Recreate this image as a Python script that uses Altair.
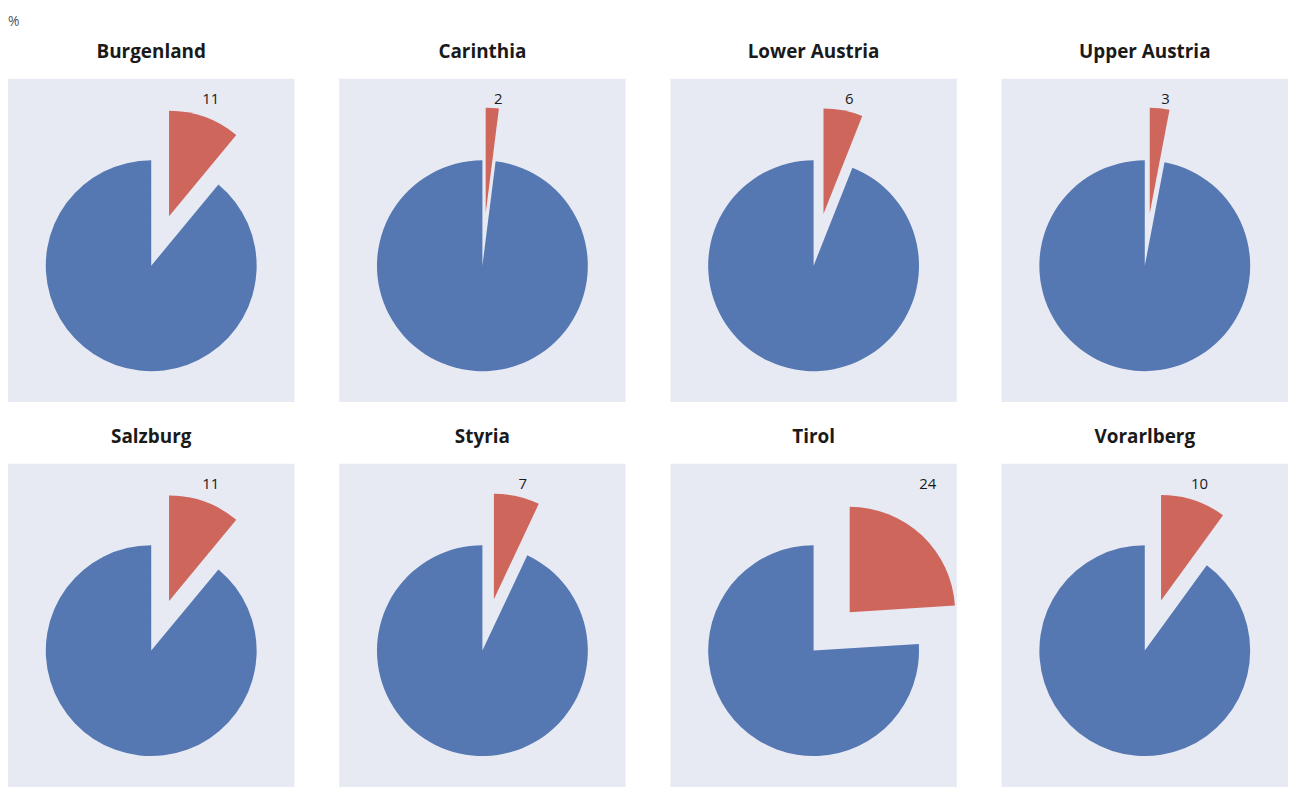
import altair as alt
import pandas as pd

regions = ["Burgenland", "Carinthia", "Lower Austria", "Upper Austria",
           "Salzburg", "Styria", "Tirol", "Vorarlberg"]
shares = [11, 2, 6, 3, 11, 7, 24, 10]

df = pd.DataFrame({"region": regions, "share": shares})

W, H = 288, 325
CX, CY = 144, 188
R = 106
D = 53

BLUE = "#5578B2"
RED = "#CF665C"
BG = "#E8EAF3"

base = alt.Chart().transform_calculate(
    t0="0",
    t1="datum.share / 100 * 2 * PI",
    mid="datum.share / 100 * PI",
    full="2 * PI",
).transform_calculate(
    rx=f"{CX} + {D} * sin(datum.mid)",
    ry=f"{CY} - {D} * cos(datum.mid)",
    lx=f"{CX} + {D} * sin(datum.mid) + {R} * sin(datum.mid) + 6",
)

blue = base.mark_arc(radius=R, color=BLUE).encode(
    theta=alt.Theta("t1:Q", scale=None, stack=None),
    theta2=alt.Theta2("full:Q"),
    x=alt.value(CX),
    y=alt.value(CY),
)

red = base.mark_arc(radius=R, color=RED).encode(
    theta=alt.Theta("t0:Q", scale=None, stack=None),
    theta2=alt.Theta2("t1:Q"),
    x=alt.X("rx:Q", scale=None, axis=None),
    y=alt.Y("ry:Q", scale=None, axis=None),
)

label = base.mark_text(font="Open Sans", fontSize=15, color="#1a1a1a",
                       baseline="middle", align="center").encode(
    x=alt.X("lx:Q", scale=None, axis=None),
    y=alt.value(20),
    text=alt.Text("share:Q", format="d"),
)

chart = alt.layer(blue, red, label, data=df).properties(
    width=W, height=H
).facet(
    facet=alt.Facet("region:N", sort=regions, title=None,
                    header=alt.Header(labelFont="Open Sans", labelFontSize=19,
                                      labelFontWeight="bold",
                                      labelColor="#1a1a1a",
                                      labelPadding=17)),
    columns=4,
    spacing={"row": 26, "column": 45},
).properties(
    title=alt.TitleParams("%", anchor="start", fontSize=14,
                          fontWeight="normal", color="#555555",
                          font="Open Sans", offset=14),
    padding={"left": 0, "top": 5, "right": 0, "bottom": 0},
).configure_view(
    fill=BG, strokeWidth=0,
)

chart.save("out.html", embed_options={"renderer": "svg", "actions": False})
